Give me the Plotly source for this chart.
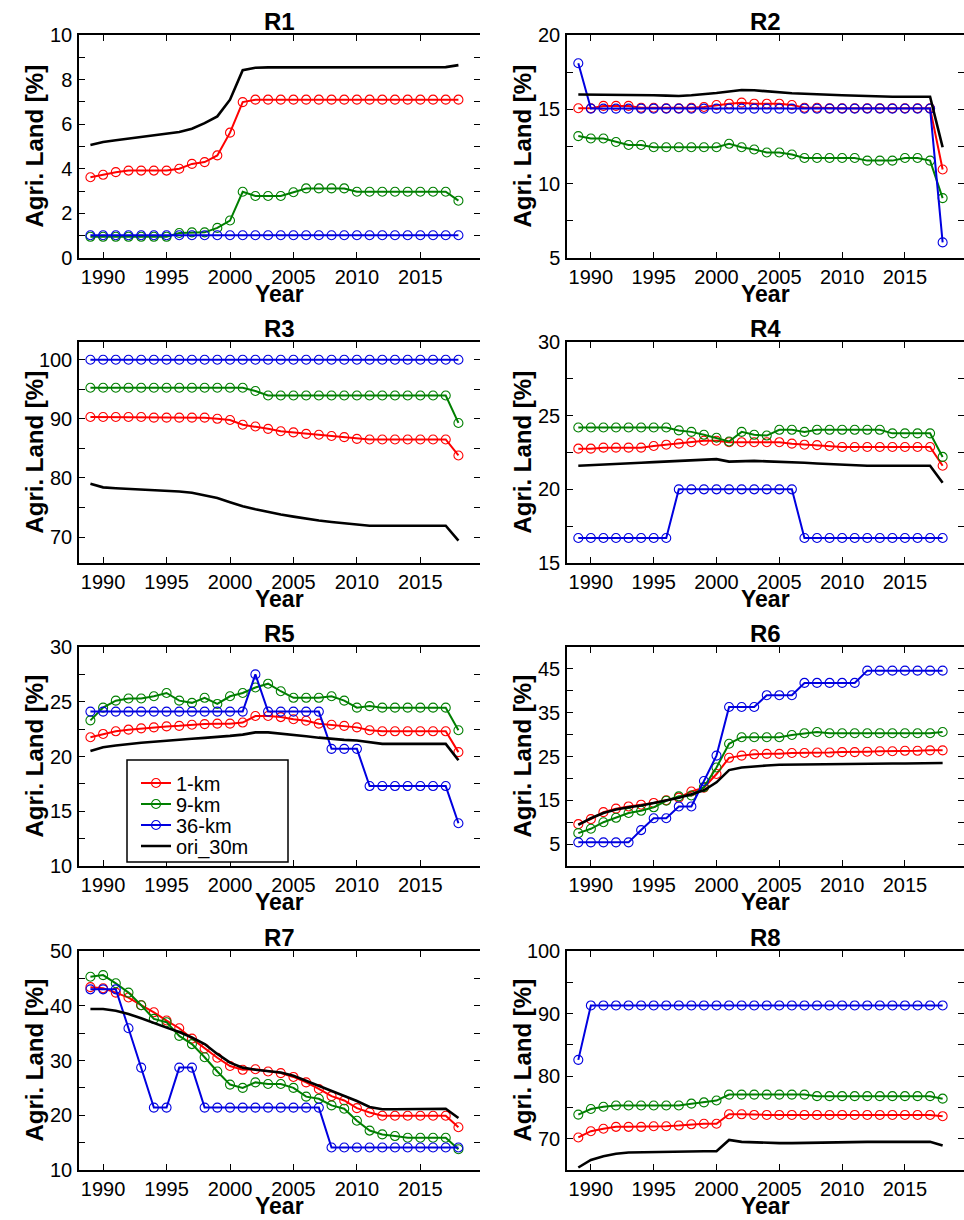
import plotly.graph_objects as go

years = list(range(1989, 2019))

series_names = ["1-km", "9-km", "36-km", "ori_30m"]
panel_titles = ["R1", "R2", "R3", "R4", "R5", "R6", "R7", "R8"]

# ---- R1 ----
r1_1km = [3.62, 3.73, 3.85, 3.92, 3.92, 3.92, 3.92, 4.00, 4.22, 4.30, 4.60, 5.62, 6.99,
          7.10, 7.10, 7.10, 7.10, 7.10, 7.10, 7.10, 7.10, 7.10, 7.10, 7.10, 7.10, 7.10, 7.10, 7.10, 7.10, 7.10]
r1_9km = [0.95, 0.95, 0.95, 0.95, 0.95, 0.95, 0.95, 1.12, 1.15, 1.15, 1.35, 1.68, 2.97,
          2.78, 2.78, 2.78, 2.95, 3.12, 3.12, 3.12, 3.12, 2.97, 2.97, 2.97, 2.97, 2.97, 2.97, 2.97, 2.97, 2.57]
r1_36km = [1.02, 1.02, 1.02, 1.02, 1.02, 1.02, 1.02, 1.02, 1.02, 1.02, 1.02, 1.02, 1.02, 1.02, 1.02,
           1.02, 1.02, 1.02, 1.02, 1.02, 1.02, 1.02, 1.02, 1.02, 1.02, 1.02, 1.02, 1.02, 1.02, 1.02]
r1_ori = [5.07, 5.20, 5.28, 5.35, 5.42, 5.48, 5.56, 5.65, 5.80, 6.05, 6.35, 7.10, 8.42, 8.53, 8.55,
          8.55, 8.56, 8.56, 8.56, 8.55, 8.55, 8.55, 8.55, 8.55, 8.55, 8.55, 8.55, 8.55, 8.56, 8.65]

# ---- R2 ----
r2_1km = [15.07, 15.07, 15.23, 15.23, 15.23, 15.11, 15.11, 15.07, 15.07, 15.11, 15.16, 15.29, 15.38, 15.45, 15.38,
          15.38, 15.38, 15.29, 15.11, 15.11, 15.07, 15.07, 15.07, 15.07, 15.07, 15.07, 15.07, 15.07, 15.07, 10.95]
r2_9km = [13.20, 13.04, 13.04, 12.80, 12.60, 12.60, 12.45, 12.45, 12.45, 12.45, 12.45, 12.45, 12.68, 12.45, 12.30,
          12.10, 12.10, 11.96, 11.73, 11.73, 11.73, 11.73, 11.73, 11.55, 11.55, 11.55, 11.73, 11.73, 11.55, 9.03]
r2_36km = [18.10, 15.05, 15.05, 15.05, 15.05, 15.05, 15.05, 15.05, 15.05, 15.05, 15.05, 15.05, 15.05, 15.05, 15.05,
           15.05, 15.05, 15.05, 15.05, 15.05, 15.05, 15.05, 15.05, 15.05, 15.05, 15.05, 15.05, 15.05, 15.05, 6.05]
r2_ori = [16.00, 16.00, 16.00, 16.00, 16.00, 15.98, 15.95, 15.92, 15.90, 15.95, 16.00, 16.10, 16.20, 16.30, 16.28,
          16.20, 16.12, 16.08, 16.05, 16.00, 15.98, 15.95, 15.92, 15.88, 15.85, 15.85, 15.85, 15.85, 15.85, 12.45]

# ---- R3 ----
r3_1km = [90.3, 90.3, 90.3, 90.3, 90.3, 90.2, 90.2, 90.2, 90.2, 90.2, 90.0, 89.8, 89.0, 88.7, 88.3,
          87.9, 87.7, 87.45, 87.3, 87.1, 86.9, 86.6, 86.5, 86.5, 86.5, 86.5, 86.5, 86.5, 86.5, 83.8]
r3_9km = [95.25, 95.25, 95.25, 95.25, 95.25, 95.25, 95.25, 95.25, 95.25, 95.25, 95.25, 95.25, 95.25, 94.7, 93.95,
          93.95, 93.95, 93.95, 93.95, 93.95, 93.95, 93.95, 93.95, 93.95, 93.95, 93.95, 93.95, 93.95, 93.95, 89.3]
r3_36km = [100.0, 100.0, 100.0, 100.0, 100.0, 100.0, 100.0, 100.0, 100.0, 100.0, 100.0, 100.0, 100.0, 100.0, 100.0,
           100.0, 100.0, 100.0, 100.0, 100.0, 100.0, 100.0, 100.0, 100.0, 100.0, 100.0, 100.0, 100.0, 100.0, 100.0]
r3_ori = [79.0, 78.4, 78.25, 78.15, 78.05, 77.95, 77.85, 77.7, 77.5, 77.1, 76.6, 75.9, 75.2, 74.7, 74.2,
          73.8, 73.45, 73.1, 72.8, 72.55, 72.3, 72.1, 71.9, 71.9, 71.9, 71.9, 71.9, 71.9, 71.9, 69.4]

# ---- R4 ----
r4_1km = [22.76, 22.76, 22.83, 22.83, 22.83, 22.83, 22.94, 23.03, 23.10, 23.20, 23.30, 23.30, 23.20, 23.20, 23.20,
          23.20, 23.20, 23.10, 23.03, 23.00, 22.94, 22.87, 22.87, 22.87, 22.87, 22.87, 22.87, 22.87, 22.87, 21.60]
r4_9km = [24.2, 24.2, 24.2, 24.2, 24.2, 24.2, 24.2, 24.2, 24.0, 23.9, 23.7, 23.5, 23.25, 23.9, 23.7,
          23.65, 24.04, 24.04, 23.9, 24.04, 24.04, 24.04, 24.04, 24.04, 24.04, 23.8, 23.8, 23.8, 23.8, 22.2]
r4_36km = [16.7, 16.7, 16.7, 16.7, 16.7, 16.7, 16.7, 16.7, 20.0, 20.0, 20.0, 20.0, 20.0, 20.0, 20.0,
           20.0, 20.0, 20.0, 16.7, 16.7, 16.7, 16.7, 16.7, 16.7, 16.7, 16.7, 16.7, 16.7, 16.7, 16.7]
r4_ori = [21.60, 21.65, 21.70, 21.72, 21.75, 21.80, 21.85, 21.90, 21.95, 22.00, 22.05, 22.05, 21.88, 21.93, 21.93,
          21.90, 21.88, 21.85, 21.80, 21.75, 21.70, 21.65, 21.62, 21.60, 21.60, 21.60, 21.60, 21.60, 21.60, 20.45]

# ---- R5 ----
r5_1km = [21.76, 22.06, 22.30, 22.45, 22.57, 22.66, 22.75, 22.80, 22.90, 22.96, 23.00, 23.00, 23.10, 23.70, 23.70,
          23.60, 23.40, 23.26, 23.00, 22.90, 22.80, 22.66, 22.40, 22.30, 22.30, 22.30, 22.30, 22.30, 22.30, 20.40]
r5_9km = [23.30, 24.46, 25.10, 25.30, 25.30, 25.50, 25.80, 25.10, 24.90, 25.36, 24.80, 25.50, 25.80, 26.30, 26.65,
          25.96, 25.36, 25.36, 25.36, 25.50, 25.10, 24.46, 24.60, 24.46, 24.46, 24.46, 24.46, 24.46, 24.46, 22.40]
r5_36km = [24.1, 24.1, 24.1, 24.1, 24.1, 24.1, 24.1, 24.1, 24.1, 24.1, 24.1, 24.1, 24.1, 27.5, 24.1,
           24.1, 24.1, 24.1, 24.1, 20.7, 20.7, 20.7, 17.3, 17.3, 17.3, 17.3, 17.3, 17.3, 17.3, 13.9]
r5_ori = [20.50, 20.85, 21.00, 21.15, 21.25, 21.35, 21.46, 21.55, 21.62, 21.70, 21.76, 21.88, 22.00, 22.20, 22.20,
          22.10, 22.00, 21.85, 21.72, 21.60, 21.52, 21.46, 21.30, 21.15, 21.15, 21.15, 21.15, 21.15, 21.15, 19.65]

# ---- R6 ----
r6_1km = [9.55, 10.7, 12.3, 13.1, 13.6, 14.0, 14.4, 15.0, 15.6, 17.0, 17.9, 21.0, 24.7, 25.2, 25.5,
          25.6, 25.6, 25.8, 25.8, 25.9, 25.9, 26.0, 26.0, 26.1, 26.2, 26.2, 26.3, 26.3, 26.4, 26.4]
r6_9km = [7.5, 8.5, 10.0, 11.0, 12.1, 12.6, 13.4, 14.9, 15.9, 16.1, 18.0, 22.5, 27.9, 29.4, 29.4,
          29.4, 29.4, 29.9, 30.3, 30.6, 30.3, 30.3, 30.3, 30.3, 30.3, 30.3, 30.3, 30.3, 30.3, 30.6]
r6_36km = [5.4, 5.4, 5.4, 5.4, 5.4, 8.2, 10.9, 10.9, 13.6, 13.6, 19.4, 25.2, 36.3, 36.3, 36.3,
           39.0, 39.0, 39.0, 41.8, 41.8, 41.8, 41.8, 41.8, 44.6, 44.6, 44.6, 44.6, 44.6, 44.6, 44.6]
r6_ori = [9.4, 10.9, 12.1, 12.9, 13.4, 13.8, 14.4, 15.0, 15.6, 16.4, 17.3, 19.1, 21.9, 22.5, 22.8,
          22.95, 23.1, 23.15, 23.2, 23.25, 23.25, 23.3, 23.3, 23.35, 23.35, 23.4, 23.4, 23.45, 23.45, 23.5]

# ---- R7 ----
r7_1km = [43.4, 43.2, 42.4, 41.5, 40.1, 38.8, 37.3, 35.9, 34.0, 32.2, 30.5, 29.0, 28.3, 28.4, 28.0,
          27.7, 27.0, 26.0, 24.8, 23.5, 22.7, 21.3, 20.5, 19.9, 19.9, 19.9, 19.9, 19.9, 19.9, 17.8]
r7_9km = [45.3, 45.6, 44.1, 42.4, 40.1, 37.6, 37.0, 34.5, 33.0, 30.6, 28.0, 25.6, 25.0, 26.0, 25.7,
          25.7, 25.0, 23.4, 23.0, 21.8, 21.2, 19.0, 17.2, 16.5, 16.2, 15.9, 15.9, 15.9, 15.9, 13.8]
r7_36km = [43.0, 43.0, 43.0, 35.9, 28.7, 21.4, 21.4, 28.7, 28.7, 21.4, 21.4, 21.4, 21.4, 21.4, 21.4,
           21.4, 21.4, 21.4, 21.4, 14.1, 14.1, 14.1, 14.1, 14.1, 14.1, 14.1, 14.1, 14.1, 14.1, 14.1]
r7_ori = [39.4, 39.4, 39.1, 38.5, 37.7, 36.8, 36.0, 35.2, 34.2, 33.0, 31.2, 29.6, 28.7, 28.3, 28.1,
          27.8, 27.2, 26.3, 25.4, 24.5, 23.5, 22.6, 21.5, 21.1, 21.1, 21.1, 21.2, 21.2, 21.2, 19.5]

# ---- R8 ----
r8_1km = [70.2, 71.2, 71.6, 71.9, 71.9, 71.9, 72.0, 72.0, 72.1, 72.3, 72.4, 72.4, 73.9, 73.9, 73.8,
          73.8, 73.8, 73.8, 73.8, 73.8, 73.8, 73.8, 73.8, 73.8, 73.8, 73.8, 73.8, 73.8, 73.8, 73.6]
r8_9km = [73.85, 74.75, 75.1, 75.3, 75.3, 75.3, 75.3, 75.3, 75.3, 75.6, 75.8, 76.1, 77.05, 77.05, 77.05,
          77.05, 77.05, 77.05, 77.05, 76.8, 76.8, 76.8, 76.8, 76.8, 76.8, 76.8, 76.8, 76.8, 76.8, 76.4]
r8_36km = [82.6, 91.3, 91.3, 91.3, 91.3, 91.3, 91.3, 91.3, 91.3, 91.3, 91.3, 91.3, 91.3, 91.3, 91.3,
           91.3, 91.3, 91.3, 91.3, 91.3, 91.3, 91.3, 91.3, 91.3, 91.3, 91.3, 91.3, 91.3, 91.3, 91.3]
r8_ori = [65.4, 66.6, 67.2, 67.6, 67.8, 67.85, 67.9, 67.9, 67.95, 67.95, 68.0, 68.0, 69.8, 69.5, 69.4,
          69.35, 69.3, 69.3, 69.35, 69.4, 69.45, 69.5, 69.5, 69.5, 69.5, 69.5, 69.5, 69.5, 69.5, 68.9]

panel_data = [
    [r1_1km, r1_9km, r1_36km, r1_ori],
    [r2_1km, r2_9km, r2_36km, r2_ori],
    [r3_1km, r3_9km, r3_36km, r3_ori],
    [r4_1km, r4_9km, r4_36km, r4_ori],
    [r5_1km, r5_9km, r5_36km, r5_ori],
    [r6_1km, r6_9km, r6_36km, r6_ori],
    [r7_1km, r7_9km, r7_36km, r7_ori],
    [r8_1km, r8_9km, r8_36km, r8_ori],
]

# y-axis ranges, tick positions and labelled ticks
y_ranges = [[0, 10], [5, 20], [65.6, 103], [15, 30], [10, 30], [0, 50], [10, 50], [65, 100]]
y_ticks = [
    [0, 1, 2, 3, 4, 5, 6, 7, 8, 9, 10],
    [5, 7.5, 10, 12.5, 15, 17.5, 20],
    [70, 75, 80, 85, 90, 95, 100],
    [15, 17.5, 20, 22.5, 25, 27.5, 30],
    [10, 12.5, 15, 17.5, 20, 22.5, 25, 27.5, 30],
    [5, 10, 15, 20, 25, 30, 35, 40, 45],
    [10, 15, 20, 25, 30, 35, 40, 45, 50],
    [70, 75, 80, 85, 90, 95, 100],
]
y_labels = [
    ["0", "", "2", "", "4", "", "6", "", "8", "", "10"],
    ["5", "", "10", "", "15", "", "20"],
    ["70", "", "80", "", "90", "", "100"],
    ["15", "", "20", "", "25", "", "30"],
    ["10", "", "15", "", "20", "", "25", "", "30"],
    ["5", "", "15", "", "25", "", "35", "", "45"],
    ["10", "", "20", "", "30", "", "40", "", "50"],
    ["70", "", "80", "", "90", "", "100"],
]
x_range = [1988.1, 2019.7]
x_ticks = [1990, 1995, 2000, 2005, 2010, 2015]

colors = ["#ff0000", "#007f00", "#0000e0", "#000000"]

W, H = 964, 1220
col_px = [(79, 480), (567, 964)]
row_px = [(35, 258), (342, 563), (647, 866), (951, 1170)]

# legend box (pixels) and the centre line of each entry
leg_box = (127, 760, 288, 862)
leg_rows = [783, 804, 825, 846]
leg_names = ["legend", "legend2", "legend3", "legend4"]

FONT = "Liberation Sans, Arial, Helvetica, sans-serif"

fig = go.Figure()
layout = dict(
    template="none",
    width=W, height=H,
    margin=dict(l=0, r=0, t=0, b=0, pad=0, autoexpand=False),
    paper_bgcolor="white", plot_bgcolor="white",
    font=dict(family=FONT, size=20, color="black"),
    showlegend=True,
)
for k in range(4):
    layout[leg_names[k]] = dict(
        x=(leg_box[0] + 9) / W, y=1 - leg_rows[k] / H, xanchor="left", yanchor="middle",
        bgcolor="rgba(0,0,0,0)", borderwidth=0,
        font=dict(family=FONT, size=20, color="black"),
        itemwidth=30,
    )

annotations = []
shapes = [dict(
    type="rect", xref="paper", yref="paper",
    x0=leg_box[0] / W, x1=leg_box[2] / W, y0=1 - leg_box[3] / H, y1=1 - leg_box[1] / H,
    line=dict(color="black", width=1.5), fillcolor="white", layer="above",
)]

for i in range(8):
    r, c = i // 2, i % 2
    n = i + 1
    xs = "" if n == 1 else str(n)
    x0, x1 = col_px[c]
    y0, y1 = row_px[r]
    xref = "x" + xs
    yref = "y" + xs

    for k in range(4):
        vals = panel_data[i][k]
        if k < 3:
            fig.add_trace(go.Scatter(
                x=years, y=vals, mode="lines+markers", name=series_names[k],
                line=dict(color=colors[k], width=2),
                marker=dict(symbol="circle-open", size=9, color=colors[k], line=dict(width=1.1)),
                xaxis=xref, yaxis=yref, showlegend=(i == 0), legend=leg_names[k],
            ))
        else:
            fig.add_trace(go.Scatter(
                x=years, y=vals, mode="lines", name=series_names[k],
                line=dict(color=colors[k], width=2.6),
                xaxis=xref, yaxis=yref, showlegend=(i == 0), legend=leg_names[k],
            ))
    # empty trace to activate right-hand tick axis
    fig.add_trace(go.Scatter(x=[None], y=[None], xaxis=xref, yaxis="y" + str(n + 8),
                             showlegend=False, hoverinfo="skip"))

    layout["xaxis" + xs] = dict(
        domain=[x0 / W, x1 / W], range=x_range, anchor=yref, automargin=False,
        showline=True, linecolor="black", linewidth=1.5, mirror="ticks",
        ticks="inside", ticklen=6, tickwidth=1.4, tickcolor="black",
        tickvals=x_ticks, ticktext=[str(t) for t in x_ticks],
        tickfont=dict(family=FONT, size=20, color="black"),
        showgrid=False, zeroline=False,
    )
    layout["yaxis" + xs] = dict(
        domain=[1 - y1 / H, 1 - y0 / H], range=y_ranges[i], anchor=xref, automargin=False,
        showline=True, linecolor="black", linewidth=1.5, mirror=False,
        ticks="inside", ticklen=6, tickwidth=1.4, tickcolor="black",
        tickvals=y_ticks[i], ticktext=y_labels[i],
        tickfont=dict(family=FONT, size=20, color="black"),
        showgrid=False, zeroline=False, ticklabelstandoff=1,
    )
    layout["yaxis" + str(n + 8)] = dict(
        overlaying=yref, side="right", anchor=xref, range=y_ranges[i], automargin=False,
        showline=False, ticks="inside", ticklen=6, tickwidth=1.4, tickcolor="black",
        tickvals=y_ticks[i], showticklabels=False,
        showgrid=False, zeroline=False,
    )

    cx = (x0 + x1) / 2 / W
    annotations.append(dict(
        text="<b>" + panel_titles[i] + "</b>", x=cx, y=1 - (y0 - 14) / H,
        xref="paper", yref="paper", xanchor="center", yanchor="middle",
        showarrow=False, font=dict(family=FONT, size=24, color="black"),
    ))
    annotations.append(dict(
        text="<b>Year</b>", x=cx, y=1 - (y1 + 36) / H,
        xref="paper", yref="paper", xanchor="center", yanchor="middle",
        showarrow=False, font=dict(family=FONT, size=23, color="black"),
    ))
    annotations.append(dict(
        text="<b>Agri. Land [%]</b>", x=(x0 - 45) / W, y=1 - (y0 + y1) / 2 / H,
        xref="paper", yref="paper", xanchor="center", yanchor="middle",
        textangle=-90, showarrow=False, font=dict(family=FONT, size=24, color="black"),
    ))

layout["annotations"] = annotations
layout["shapes"] = shapes
fig.update_layout(**layout)
fig.write_html("out.html", config={"displayModeBar": False},
               post_script="document.body.style.margin='0';")
